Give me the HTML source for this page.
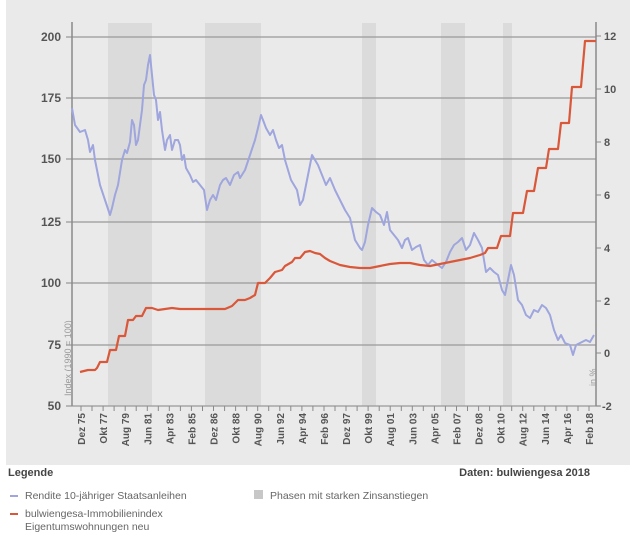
<!DOCTYPE html>
<html><head><meta charset="utf-8"><style>
body{margin:0;background:#fff;width:635px;height:543px;overflow:hidden;font-family:"Liberation Sans",sans-serif}
</style></head><body>
<svg width="635" height="543" xmlns="http://www.w3.org/2000/svg" font-family="Liberation Sans, sans-serif">
<rect x="6" y="0" width="624" height="465" fill="#ebeaeb"/>
<g fill="#dcdbdc">
<rect x="108" y="23" width="44" height="383"/>
<rect x="205" y="23" width="56" height="383"/>
<rect x="362" y="23" width="14" height="383"/>
<rect x="441" y="23" width="24" height="383"/>
<rect x="503" y="23" width="9" height="383"/>
</g>
<g stroke="#9a999a" stroke-width="1.2">
<line x1="66" y1="37" x2="596" y2="37"/><line x1="66" y1="98" x2="596" y2="98"/>
<line x1="66" y1="159" x2="596" y2="159"/><line x1="66" y1="222" x2="596" y2="222"/>
<line x1="66" y1="283" x2="596" y2="283"/><line x1="66" y1="345" x2="596" y2="345"/>
<line x1="66" y1="406" x2="600" y2="406"/>
</g>
<line x1="72" y1="22" x2="72" y2="406" stroke="#8a898a" stroke-width="1.5"/>
<line x1="596" y1="22" x2="596" y2="406" stroke="#8a898a" stroke-width="1.5"/>
<path stroke="#8a898a" stroke-width="1" d="M596 36h5M596 89h5M596 142h5M596 195h5M596 248h5M596 301h5M596 353h5M596 406h5"/>
<path stroke="#8a898a" stroke-width="1" d="M81 406v5M92 406v5M103.1 406v5M114.1 406v5M125.2 406v5M136.2 406v5M147.3 406v5M158.3 406v5M169.3 406v5M180.4 406v5M191.4 406v5M202.5 406v5M213.5 406v5M224.6 406v5M235.6 406v5M246.7 406v5M257.7 406v5M268.7 406v5M279.8 406v5M290.8 406v5M301.9 406v5M312.9 406v5M324 406v5M335 406v5M346 406v5M357.1 406v5M368.1 406v5M379.2 406v5M390.2 406v5M401.3 406v5M412.3 406v5M423.3 406v5M434.4 406v5M445.4 406v5M456.5 406v5M467.5 406v5M478.6 406v5M489.6 406v5M500.7 406v5M511.7 406v5M522.7 406v5M533.8 406v5M544.8 406v5M555.9 406v5M566.9 406v5M578 406v5M589 406v5"/>
<g font-size="12" font-weight="bold" fill="#555" text-anchor="end">
<text x="61" y="41">200</text><text x="61" y="102">175</text><text x="61" y="163">150</text><text x="61" y="226">125</text><text x="61" y="287">100</text><text x="61" y="349">75</text><text x="61" y="410">50</text>
</g>
<g font-size="11" font-weight="bold" fill="#555">
<text x="604" y="40">12</text><text x="604" y="93">10</text><text x="604" y="146">8</text><text x="604" y="199">6</text><text x="604" y="252">4</text><text x="604" y="305">2</text><text x="604" y="357">0</text><text x="602" y="410">-2</text>
</g>
<text transform="translate(71,396) rotate(-90)" font-size="9" fill="#999">Index (1990 = 100)</text>
<text transform="translate(596,386) rotate(-90)" font-size="9" fill="#999">in %</text>
<g font-size="10" font-weight="bold" fill="#555" text-anchor="end">
<text transform="translate(85,413) rotate(-90)">Dez 75</text>
<text transform="translate(107.1,413) rotate(-90)">Okt 77</text>
<text transform="translate(129.2,413) rotate(-90)">Aug 79</text>
<text transform="translate(151.3,413) rotate(-90)">Jun 81</text>
<text transform="translate(173.3,413) rotate(-90)">Apr 83</text>
<text transform="translate(195.4,413) rotate(-90)">Feb 85</text>
<text transform="translate(217.5,413) rotate(-90)">Dez 86</text>
<text transform="translate(239.6,413) rotate(-90)">Okt 88</text>
<text transform="translate(261.7,413) rotate(-90)">Aug 90</text>
<text transform="translate(283.8,413) rotate(-90)">Jun 92</text>
<text transform="translate(305.9,413) rotate(-90)">Apr 94</text>
<text transform="translate(328,413) rotate(-90)">Feb 96</text>
<text transform="translate(350,413) rotate(-90)">Dez 97</text>
<text transform="translate(372.1,413) rotate(-90)">Okt 99</text>
<text transform="translate(394.2,413) rotate(-90)">Aug 01</text>
<text transform="translate(416.3,413) rotate(-90)">Jun 03</text>
<text transform="translate(438.4,413) rotate(-90)">Apr 05</text>
<text transform="translate(460.5,413) rotate(-90)">Feb 07</text>
<text transform="translate(482.6,413) rotate(-90)">Dez 08</text>
<text transform="translate(504.7,413) rotate(-90)">Okt 10</text>
<text transform="translate(526.7,413) rotate(-90)">Aug 12</text>
<text transform="translate(548.8,413) rotate(-90)">Jun 14</text>
<text transform="translate(570.9,413) rotate(-90)">Apr 16</text>
<text transform="translate(593,413) rotate(-90)">Feb 18</text>
</g>
<polyline fill="none" stroke="#9ea6dd" stroke-width="2" stroke-linejoin="round" points="72,108 75,125 80,132 85,130 88,140 90,152 93,145 95,160 100,185 105,200 110,215 112,208 115,195 118,185 122,160 125,150 127,153 130,142 132,120 134,125 136,145 138,140 140,125 142,110 144,85 146,80 148,65 150,55 152,75 154,95 156,100 158,120 160,112 162,130 165,150 167,140 170,135 172,150 175,140 178,140 180,145 182,160 184,155 186,168 190,175 193,182 196,180 200,185 204,190 207,210 210,200 213,195 216,200 220,185 223,180 226,178 230,185 234,175 238,172 240,178 245,170 250,155 255,140 258,128 261,115 263,120 266,128 270,135 273,130 276,140 279,148 282,145 285,160 288,170 291,180 294,185 297,190 300,205 303,200 306,185 309,170 312,155 315,160 318,165 322,175 326,185 330,178 335,190 340,200 345,210 350,218 355,240 360,248 362,250 365,242 368,225 372,208 376,212 380,215 384,225 387,212 390,230 394,235 398,240 402,248 405,240 408,238 412,250 416,247 420,245 424,260 428,265 432,260 438,265 442,268 446,262 450,252 454,245 458,242 462,238 466,250 470,245 474,233 478,240 482,248 484,260 486,272 490,268 494,272 498,275 502,290 505,295 508,280 511,265 514,275 518,300 522,305 526,315 530,318 534,310 538,312 542,305 546,308 550,315 554,330 558,340 561,335 565,343 570,345 573,355 576,345 580,343 586,340 590,342 594,335"/>
<polyline fill="none" stroke="#d9583a" stroke-width="2.2" stroke-linejoin="round" points="80,372 88,370 95,370 97,368 100,362 107,362 110,350 116,350 119,336 125,336 128,320 133,320 136,316 142,316 146,308 152,308 158,310 165,309 172,308 180,309 200,309 215,309 225,309 232,306 238,300 245,300 250,298 255,295 258,283 265,283 270,278 275,272 282,270 285,266 292,262 295,258 300,258 305,252 310,251 315,253 320,254 325,258 330,261 340,265 350,267 360,268 370,268 380,266 390,264 400,263 410,263 420,265 430,266 440,264 450,262 460,260 470,258 480,255 485,253 488,248 497,248 501,236 510,236 513,213 523,213 527,191 534,191 538,168 546,168 549,149 558,149 561,123 569,123 572,87 581,87 585,41 596,41"/>
<text x="8" y="476" font-size="11" font-weight="bold" fill="#444">Legende</text>
<text x="590" y="476" font-size="11" font-weight="bold" fill="#444" text-anchor="end">Daten: bulwiengesa 2018</text>
<line x1="10" y1="496" x2="18" y2="496" stroke="#9ea6dd" stroke-width="2"/>
<text x="25" y="499" font-size="10.5" fill="#666">Rendite 10-jähriger Staatsanleihen</text>
<rect x="254" y="490" width="9" height="9" fill="#c8c7c8"/>
<text x="270" y="499" font-size="10.5" fill="#666">Phasen mit starken Zinsanstiegen</text>
<line x1="10" y1="514" x2="18" y2="514" stroke="#d9583a" stroke-width="2"/>
<text x="25" y="517" font-size="10.5" fill="#666">bulwiengesa-Immobilienindex</text>
<text x="25" y="530" font-size="10.5" fill="#666">Eigentumswohnungen neu</text>
</svg>
</body></html>
